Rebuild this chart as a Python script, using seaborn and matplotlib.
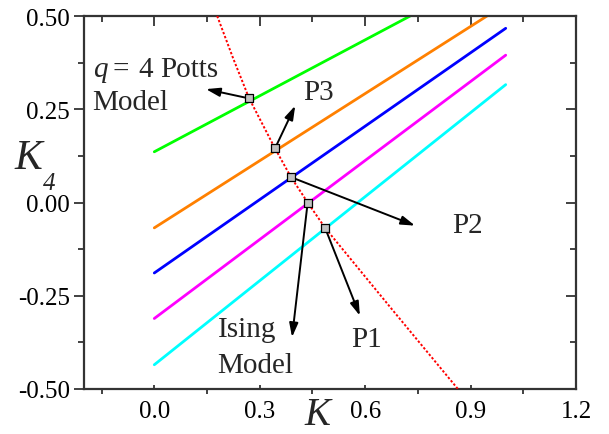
import numpy as np
import pandas as pd
import seaborn as sns
import matplotlib.pyplot as plt
from matplotlib.ticker import MultipleLocator

sns.set_theme(style="ticks")
plt.rcParams["font.family"] = ["Liberation Serif", "DejaVu Serif"]

# Coupling lines K4(K), given by their end points at K = 0 and K = 1
line_names = ["L1", "L2", "L3", "L4", "L5"]
line_colors = ["#00ff00", "#ff8000", "#0000ff", "#ff00ff", "#00ffff"]
line_k = [0.0, 1.0]
line_k4_start = [0.136, -0.068, -0.189, -0.311, -0.435]
line_k4_end = [0.636, 0.532, 0.467, 0.395, 0.316]

# Critical curve (dotted)
crit_k = [0.179, 0.225, 0.270, 0.3435, 0.389, 0.4365, 0.486, 0.676, 0.864]
crit_k4 = [0.500, 0.385, 0.279, 0.145, 0.068, 0.000, -0.068, -0.286, -0.500]

# Intersection points marked on the curve
pt_k = [0.270, 0.3435, 0.389, 0.4365, 0.486]
pt_k4 = [0.279, 0.145, 0.068, 0.000, -0.068]

# Arrow tips for each marked point
tip_k = [0.147, 0.401, 0.742, 0.392, 0.585]
tip_k4 = [0.304, 0.2595, -0.062, -0.361, -0.3035]

rows = []
for name, a, b in zip(line_names, line_k4_start, line_k4_end):
    rows.append({"line": name, "K": line_k[0], "K4": a})
    rows.append({"line": name, "K": line_k[1], "K4": b})
lines_df = pd.DataFrame(rows)
crit_df = pd.DataFrame({"K": crit_k, "K4": crit_k4})
pts_df = pd.DataFrame({"K": pt_k, "K4": pt_k4})

fig = plt.figure(figsize=(6.09, 4.35), dpi=100)
ax = fig.add_axes([84 / 609, 45 / 435, 492 / 609, 373 / 435])

sns.lineplot(data=lines_df, x="K", y="K4", hue="line",
             palette=dict(zip(line_names, line_colors)), linewidth=2.0,
             legend=False, ax=ax, zorder=2)
sns.lineplot(data=crit_df, x="K", y="K4", color="red", linewidth=1.4,
             linestyle=(0, (1.2, 1.0)), legend=False, ax=ax, zorder=3)

for k, k4, tk, tk4 in zip(pt_k, pt_k4, tip_k, tip_k4):
    ax.annotate("", xy=(tk, tk4), xytext=(k, k4),
                arrowprops=dict(arrowstyle="-|>,head_length=0.7,head_width=0.22",
                                color="black", lw=1.4, shrinkA=0, shrinkB=0),
                zorder=4)

sns.scatterplot(data=pts_df, x="K", y="K4", marker="s", s=30,
                color="#c0c0c0", edgecolor="black", linewidth=0.9,
                ax=ax, zorder=5)

ax.set_xlim(-0.2, 1.2)
ax.set_ylim(-0.5, 0.5)
ax.xaxis.set_minor_locator(MultipleLocator(0.15))
ax.yaxis.set_minor_locator(MultipleLocator(0.125))
ax.set_xticks([0.0, 0.3, 0.6, 0.9, 1.2])
ax.set_xticklabels(["0.0", "0.3", "0.6", "0.9", "1.2"])
ax.set_yticks([-0.5, -0.25, 0.0, 0.25, 0.5])
ax.set_yticklabels(["-0.50", "-0.25", "0.00", "0.25", "0.50"])
ax.set_xlabel("")
ax.set_ylabel("")

for s in ax.spines.values():
    s.set_visible(True)
    s.set_linewidth(1.6)
    s.set_color("#333333")

ax.tick_params(axis="both", which="both", labelsize=18, colors="#333333",
               labelcolor="black", width=1.3)
ax.tick_params(axis="y", which="major", direction="out", length=7)
ax.tick_params(axis="y", which="minor", direction="out", length=4)
ax.tick_params(axis="x", which="major", direction="in", length=3)
ax.tick_params(axis="x", which="minor", direction="out", length=3.5)
ax.tick_params(axis="x", pad=8)
ax.tick_params(axis="y", pad=3)

# Top and right ticks point inward
axt = ax.secondary_xaxis("top")
axt.set_xticks([0.0, 0.3, 0.6, 0.9, 1.2])
axt.xaxis.set_minor_locator(MultipleLocator(0.15))
axt.tick_params(which="major", direction="in", length=7, width=1.3, colors="#333333", labeltop=False)
axt.tick_params(which="minor", direction="in", length=4, width=1.3, colors="#333333")
axt.spines["top"].set_visible(False)
axr = ax.secondary_yaxis("right")
axr.set_yticks([-0.5, -0.25, 0.0, 0.25, 0.5])
axr.yaxis.set_minor_locator(MultipleLocator(0.125))
axr.tick_params(which="major", direction="in", length=7, width=1.3, colors="#333333", labelright=False)
axr.tick_params(which="minor", direction="in", length=4, width=1.3, colors="#333333")
axr.spines["right"].set_visible(False)

# Annotations ("q = 4 Potts" set word by word)
ax.text(-0.1753, 0.340, "q", fontsize=21, style="italic", va="baseline", ha="left")
ax.text(-0.1176, 0.340, "=", fontsize=21, va="baseline", ha="left")
ax.text(-0.0443, 0.340, "4", fontsize=21, va="baseline", ha="left")
ax.text(0.0162, 0.340, "Potts", fontsize=21, va="baseline", ha="left")
ax.text(-0.1753, 0.2507, "Model", fontsize=21, va="baseline", ha="left")
ax.text(0.182, -0.357, "Ising", fontsize=21, va="baseline", ha="left")
ax.text(0.180, -0.4536, "Model", fontsize=21, va="baseline", ha="left")
ax.text(0.559, -0.3855, "P1", fontsize=21, va="baseline", ha="left")
ax.text(0.849, -0.080, "P2", fontsize=21, va="baseline", ha="left")
ax.text(0.423, 0.2775, "P3", fontsize=21, va="baseline", ha="left")

# Axis titles
fig.text(317 / 609, 1 / 435, "K", fontsize=28, style="italic",
         ha="center", va="bottom")
fig.text(14 / 609, 1 - 169.3 / 435, "K", fontsize=30, style="italic",
         ha="left", va="baseline")
fig.text(43 / 609, 1 - 190 / 435, "4", fontsize=18, style="italic",
         ha="left", va="baseline")

fig.savefig("out.png", dpi=100)
